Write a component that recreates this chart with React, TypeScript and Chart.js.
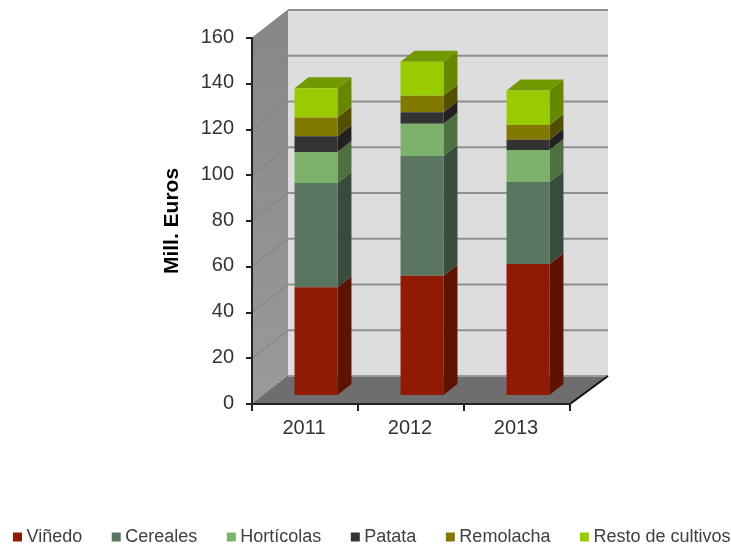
import React, { useEffect, useRef } from "react";
import { Chart, registerables } from "chart.js";

Chart.register(...registerables);

const categories = ["2011", "2012", "2013"];
const vinedo = [47.5, 52.6, 57.7];
const cereales = [45.6, 52.3, 35.8];
const horticolas = [13.6, 14.1, 14];
const patata = [6.8, 5, 4.5];
const remolacha = [8.3, 7.3, 6.5];
const resto = [12.7, 14.8, 15];

const colors = ["#911a04", "#5a7560", "#7db26a", "#333333", "#827a00", "#99cc00"];
const sideColors = ["#5e1202", "#384c3e", "#4f7142", "#222222", "#544f00", "#668800"];
const topColor = "#729900";

const WALL = { dx: 36, dy: -28 };
const BAR_FRONT = { dx: 11, dy: -8 };
const BAR_DEPTH = { dx: 14, dy: -11 };
const FONT = "'Liberation Sans', Arial, sans-serif";

function poly(ctx: CanvasRenderingContext2D, pts: number[][], fill?: string) {
  ctx.beginPath();
  pts.forEach((p, i) => (i ? ctx.lineTo(p[0], p[1]) : ctx.moveTo(p[0], p[1])));
  ctx.closePath();
  if (fill) {
    ctx.fillStyle = fill;
    ctx.fill();
  }
}

const box3d = {
  id: "box3d",
  beforeLayout(chart: any) {
    // keep all legend entries on a single row
    const lg = chart.legend;
    if (lg && !lg.__wide) {
      lg.__wide = true;
      const orig = lg.update;
      lg.update = function (w: number, h: number, m: any) {
        return orig.call(this, w + 100, h, m);
      };
    }
  },
  afterLayout(chart: any) {
    const lg = chart.legend;
    const padding = lg.options.labels.padding;
    lg.left = 17.5 - padding;
    lg.right = 1000;
    lg.top = 494;
    lg.bottom = 546;
  },
  beforeDraw(chart: any) {
    const { ctx, chartArea: a, scales } = chart;
    const yS = scales.y;
    const { dx, dy } = WALL;
    ctx.save();
    ctx.fillStyle = "#ffffff";
    ctx.fillRect(0, 0, chart.width, chart.height);
    // back wall
    ctx.fillStyle = "#dddddd";
    ctx.fillRect(a.left + dx, a.top + dy, a.right - a.left + 2, a.bottom - a.top);
    // side wall
    const grad = ctx.createLinearGradient(0, a.top, 0, a.bottom);
    grad.addColorStop(0, "#888888");
    grad.addColorStop(1, "#9a9a9a");
    poly(ctx, [
      [a.left, a.top],
      [a.left + dx, a.top + dy],
      [a.left + dx, a.bottom + dy],
      [a.left, a.bottom],
    ], grad);
    // floor
    poly(ctx, [
      [a.left, a.bottom],
      [a.left + dx, a.bottom + dy],
      [a.right + dx + 2, a.bottom + dy],
      [a.right, a.bottom],
    ], "#6e6e6e");
    // grid lines
    yS.ticks.forEach((t: any) => {
      const y = yS.getPixelForValue(t.value);
      if (t.value > 0) {
        ctx.strokeStyle = "#808080";
        ctx.lineWidth = 1;
        ctx.beginPath();
        ctx.moveTo(a.left, y);
        ctx.lineTo(a.left + dx, y + dy);
        ctx.stroke();
      }
      ctx.strokeStyle = t.value > 0 ? "#8f8f8f" : "#9a9a9a";
      ctx.lineWidth = 2;
      ctx.beginPath();
      ctx.moveTo(a.left + dx, y + dy);
      ctx.lineTo(a.right + dx + 2, y + dy);
      ctx.stroke();
    });
    // floor edges
    ctx.strokeStyle = "#111111";
    ctx.lineWidth = 2;
    ctx.beginPath();
    ctx.moveTo(a.right, a.bottom);
    ctx.lineTo(a.right + dx + 2, a.bottom + dy);
    ctx.stroke();
    ctx.strokeStyle = "#555555";
    ctx.lineWidth = 1;
    ctx.setLineDash([2, 2]);
    ctx.beginPath();
    ctx.moveTo(a.left, a.bottom);
    ctx.lineTo(a.left + dx, a.bottom + dy);
    ctx.stroke();
    ctx.restore();
  },
  beforeDatasetsDraw(chart: any) {
    const { ctx } = chart;
    ctx.save();
    ctx.translate(BAR_FRONT.dx, BAR_FRONT.dy);
    const { dx, dy } = BAR_DEPTH;
    const n = chart.data.datasets.length;
    for (let d = 0; d < n; d++) {
      chart.getDatasetMeta(d).data.forEach((bar: any) => {
        const { x, y, base, width } = bar.getProps(["x", "y", "base", "width"], true);
        const r = x + width / 2;
        const l = x - width / 2;
        poly(ctx, [
          [r, y],
          [r + dx, y + dy],
          [r + dx, base + dy],
          [r, base],
        ], sideColors[d]);
        if (d === n - 1) {
          poly(ctx, [
            [l, y],
            [l + dx, y + dy],
            [r + dx, y + dy],
            [r, y],
          ], topColor);
        }
      });
    }
  },
  afterDatasetsDraw(chart: any) {
    chart.ctx.restore();
  },
};

const seriesNames = ["Viñedo", "Cereales", "Hortícolas", "Patata", "Remolacha", "Resto de cultivos"];
const seriesValues = [vinedo, cereales, horticolas, patata, remolacha, resto];

export default function App() {
  const ref = useRef<HTMLCanvasElement>(null);
  useEffect(() => {
    const chart = new Chart(ref.current!, {
      type: "bar",
      data: {
        labels: categories,
        datasets: seriesNames.map((label, i) => ({
          label,
          data: seriesValues[i],
          backgroundColor: colors[i],
          borderWidth: 0,
          barPercentage: 0.405,
          categoryPercentage: 1,
          clip: false as any,
        })),
      },
      plugins: [box3d as any],
      options: {
        responsive: false,
        animation: false,
        devicePixelRatio: 1,
        layout: { padding: { top: 38, left: 0, right: 0, bottom: 0 } },
        plugins: {
          tooltip: { enabled: false },
          legend: {
            position: "bottom",
            align: "start",
            labels: {
              boxWidth: 0.01,
              boxHeight: 0.01,
              padding: 34,
              color: "#404040",
              font: { family: FONT, size: 18, lineHeight: 1 },
              generateLabels(c: any) {
                return Chart.defaults.plugins.legend.labels
                  .generateLabels(c)
                  .map((it: any) => ({ ...it, strokeStyle: it.fillStyle, lineWidth: 9 }));
              },
            },
          },
        },
        scales: {
          x: {
            stacked: true,
            afterFit(s: any) {
              s.height = 80;
            },
            grid: { drawOnChartArea: false, color: "#222222", tickLength: 7, lineWidth: 2 },
            border: { color: "#222222", width: 2 },
            ticks: {
              color: "#333333",
              font: { family: FONT, size: 20 },
              padding: 5,
              maxRotation: 0,
              labelOffset: -1,
            },
          },
          y: {
            stacked: true,
            min: 0,
            max: 160,
            afterFit(s: any) {
              s.width = 252;
            },
            title: {
              display: true,
              text: "Mill. Euros",
              color: "#000000",
              font: { family: FONT, size: 21, weight: "bold" },
              padding: { top: 160, bottom: 0 },
            },
            grid: { drawOnChartArea: false, color: "#222222", tickLength: 6, lineWidth: 2 },
            border: { color: "#222222", width: 2 },
            ticks: {
              stepSize: 20,
              color: "#333333",
              font: { family: FONT, size: 20 },
              padding: 12,
              labelOffset: -1,
            },
          },
          spacer: {
            type: "linear",
            position: "right",
            display: true,
            afterFit(s: any) {
              s.width = 161;
            },
            grid: { display: false },
            border: { display: false },
            ticks: { display: false },
          },
        },
      } as any,
    });
    return () => chart.destroy();
  }, []);
  return (
    <canvas
      ref={ref}
      width={731}
      height={546}
      style={{ position: "absolute", left: 0, top: 0, display: "block" }}
    />
  );
}
